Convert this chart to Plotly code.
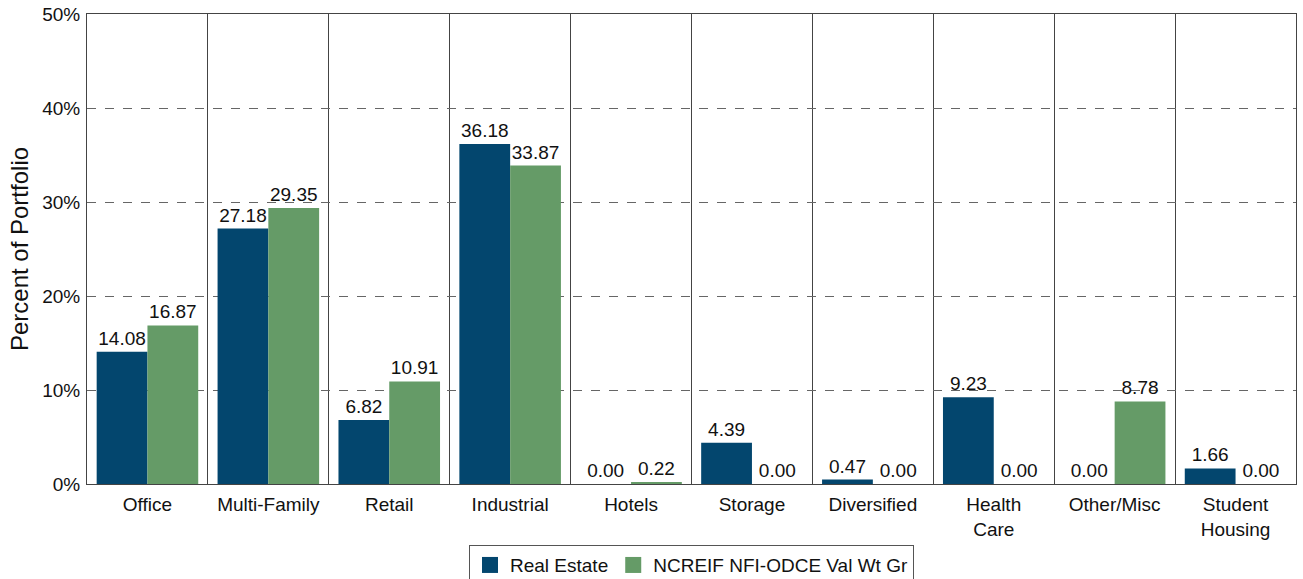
import plotly.graph_objects as go

CATEGORIES = ["Office", "Multi-Family", "Retail", "Industrial", "Hotels", "Storage",
              "Diversified", "Health<br>Care", "Other/Misc", "Student<br>Housing"]
REAL_ESTATE = [14.08, 27.18, 6.82, 36.18, 0.00, 4.39, 0.47, 9.23, 0.00, 1.66]
NCREIF = [16.87, 29.35, 10.91, 33.87, 0.22, 0.00, 0.00, 0.00, 8.78, 0.00]

COLOR_BLUE = "#03466e"
COLOR_GREEN = "#659b67"
FONT = "Liberation Sans, Arial, sans-serif"

fig = go.Figure()
for name, vals, color in [("Real Estate", REAL_ESTATE, COLOR_BLUE),
                          ("NCREIF NFI-ODCE Val Wt Gr", NCREIF, COLOR_GREEN)]:
    fig.add_trace(go.Bar(
        x=CATEGORIES, y=vals, name=name, marker={"color": color, "line": {"width": 0}},
        text=[f"{v:.2f}" for v in vals], textposition="outside", cliponaxis=False,
        textfont={"size": 19, "color": "#111111"}, showlegend=False,
    ))
    # legend-only entry so the swatch can be a larger square
    fig.add_trace(go.Scatter(
        x=[None], y=[None], mode="markers", name=name,
        marker={"symbol": "square", "size": 20, "color": color},
    ))

fig.update_layout(
    template="plotly_white",
    paper_bgcolor="#ffffff",
    plot_bgcolor="#ffffff",
    font={"family": FONT, "color": "#111111", "size": 19},
    barmode="group",
    bargap=0.16,
    bargroupgap=0,
    width=1303,
    height=579,
    margin={"l": 87, "r": 7, "t": 14, "b": 95, "autoexpand": False},
    showlegend=True,
    legend={
        "orientation": "h", "x": 0.5, "xanchor": "center", "y": -0.13, "yanchor": "top",
        "bordercolor": "#555555", "borderwidth": 1, "font": {"size": 19},
        "itemwidth": 30, "itemsizing": "trace",
    },
)
fig.update_xaxes(
    tickson="boundaries", showgrid=True, gridcolor="#444444", gridwidth=1,
    showline=True, linecolor="#444444", mirror=True, ticks="",
    tickfont={"size": 19}, ticklabelstandoff=3, automargin=False,
)
fig.update_yaxes(
    range=[0, 50], dtick=10, ticksuffix="%", showgrid=True, gridcolor="#666666",
    griddash="dash", gridwidth=1, showline=True, linecolor="#444444", mirror=True,
    zeroline=False, tickfont={"size": 19}, automargin=False, ticklabelstandoff=2,
    ticklabeloverflow="allow",
    title={"text": "Percent of Portfolio", "font": {"size": 24}, "standoff": 6},
)

# drop the page's default body margin so the figure sits at the window corner
fig.write_html("out.html", config={"displayModeBar": False},
               post_script="document.body.style.margin='0';")
